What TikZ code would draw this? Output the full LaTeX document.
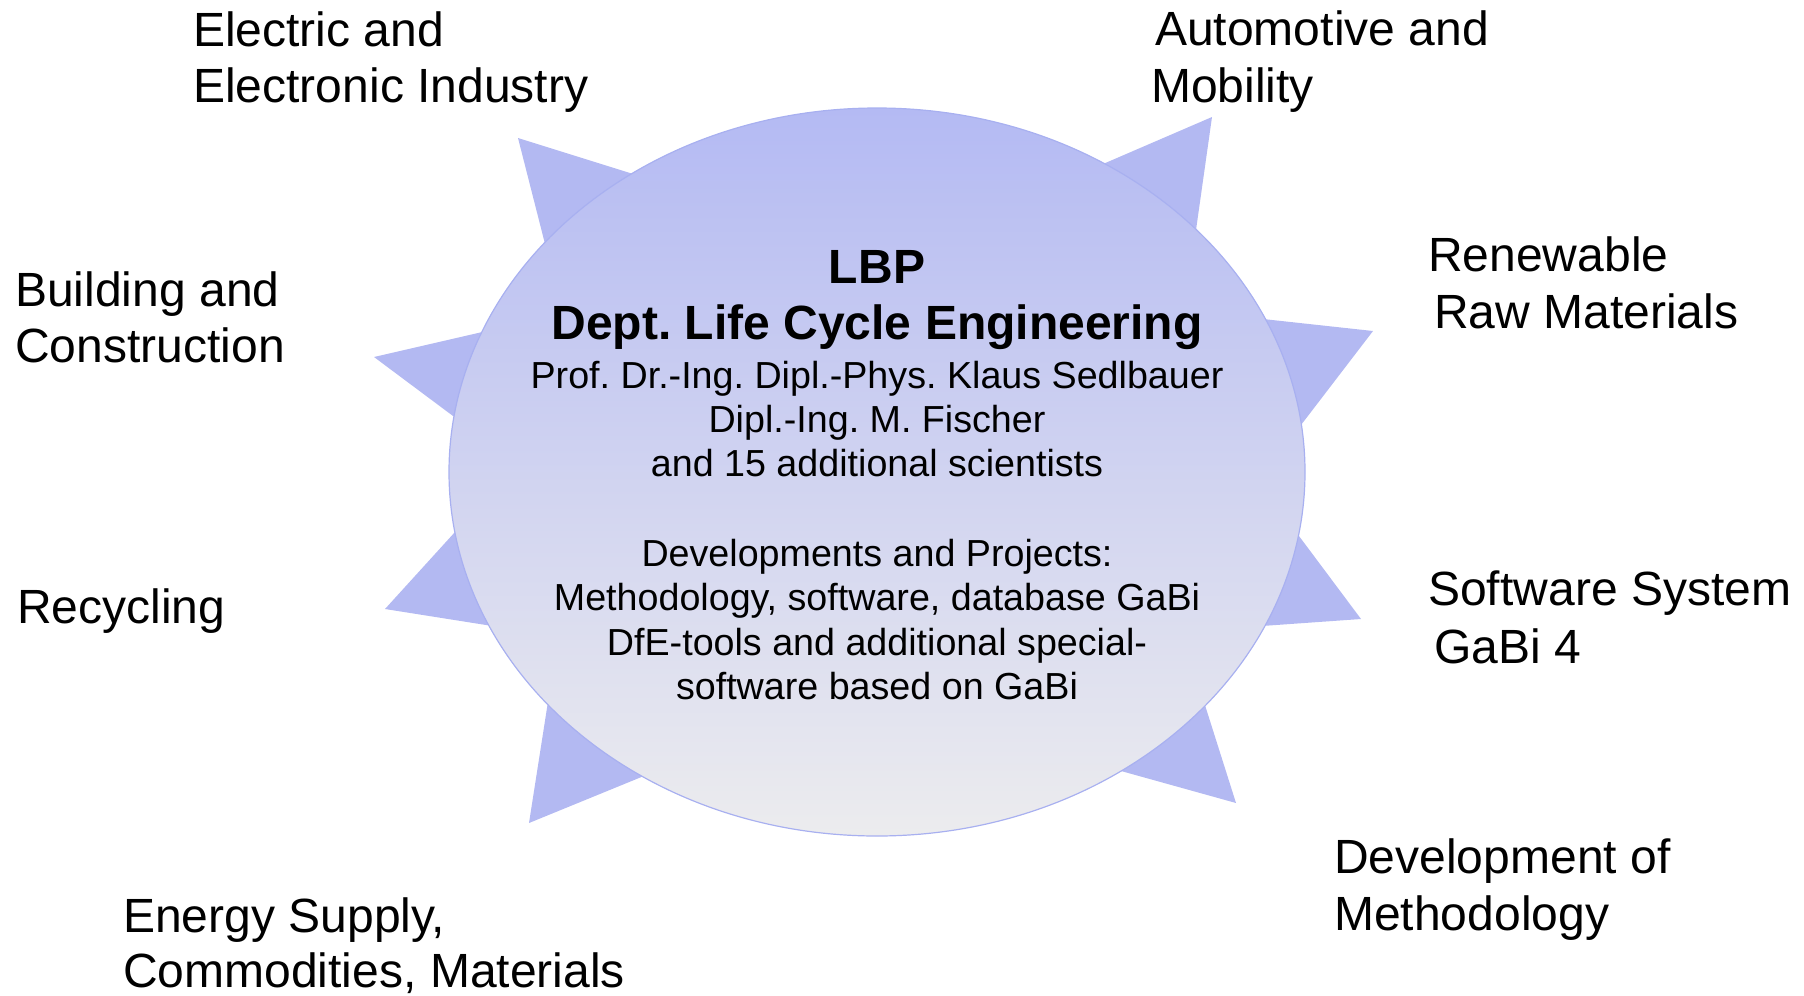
\documentclass[tikz,border=0pt]{standalone}
\usepackage{fontspec}
\setmainfont{Liberation Sans}
\usetikzlibrary{calc}
\frenchspacing
\definecolor{spike}{RGB}{179,185,242}
\definecolor{elltop}{RGB}{180,186,243}
\definecolor{ellbot}{RGB}{236,236,238}
\definecolor{ellline}{RGB}{168,176,240}
\begin{document}
\frenchspacing
\begin{tikzpicture}[x=1bp,y=-1bp,
  outer/.style={anchor=base west,inner sep=0pt,font=\fontsize{48.2}{56}\selectfont},
  inbold/.style={anchor=base,inner sep=0pt,font=\fontsize{48.2}{56}\selectfont\bfseries},
  inreg/.style={anchor=base,inner sep=0pt,font=\fontsize{37.8}{45}\selectfont},
  spikefill/.style={fill=spike,draw=none},
  hub/.style={draw=ellline,line width=1.2bp,top color=elltop,bottom color=ellbot}]
\useasboundingbox (0,0) rectangle (1804,995);
\coordinate (c) at (877,472);
% spikes of the star behind the ellipse
\foreach \tx/\ty/\ax/\ay/\bx/\by in {
  518/138/630/173/544/240,
  1212/117/1103/164/1196/230,
  1373/331/1263/319/1301/425,
  1361/619/1296/532/1262/626,
  1236/803/1204/702/1121/771,
  529/823/547/708/639/778,
  385/609/455/532/486/625,
  374/357/478/333/449/413}
  \fill[spikefill] (\tx,\ty) -- ($(\tx,\ty)!1.6!(\ax,\ay)$) -- (c) -- ($(\tx,\ty)!1.6!(\bx,\by)$) -- cycle;
% central ellipse
\draw[hub] (c) ellipse [x radius=428, y radius=364];
% central text
\node[inbold] (lbp) at (877,283) {LBP};
\node[inbold] (dept) at (877,339) {Dept. Life Cycle Engineering};
\node[inreg] (prof) at (877,388) {Prof. Dr.-Ing. Dipl.-Phys. Klaus Sedlbauer};
\node[inreg] (fischer) at (877,432) {Dipl.-Ing. M. Fischer};
\node[inreg] (sci) at (877,476) {and 15 additional scientists};
\node[inreg] (dev) at (877,566) {Developments and Projects:};
\node[inreg] (meth) at (877,610) {Methodology, software, database GaBi};
\node[inreg] (dfe) at (877,655) {DfE-tools and additional special-};
\node[inreg] (soft) at (877,699) {software based on GaBi};
% outer labels
\node[outer] (ee1) at (193,46) {Electric and};
\node[outer] (ee2) at (193,102) {Electronic Industry};
\node[outer] (am1) at (1155,45) {Automotive and};
\node[outer] (am2) at (1151,102) {Mobility};
\node[outer] (rr1) at (1428,271) {Renewable};
\node[outer] (rr2) at (1434,328) {Raw Materials};
\node[outer] (bc1) at (15,306) {Building and};
\node[outer] (bc2) at (15,362) {Construction};
\node[outer] (rec) at (17,623) {Recycling};
\node[outer] (sw1) at (1428,605) {Software System};
\node[outer] (sw2) at (1434,663) {GaBi 4};
\node[outer] (dm1) at (1334,873) {Development of};
\node[outer] (dm2) at (1334,930) {Methodology};
\node[outer] (en1) at (123,932) {Energy Supply,};
\node[outer] (en2) at (123,987) {Commodities, Materials};
\end{tikzpicture}
\end{document}
